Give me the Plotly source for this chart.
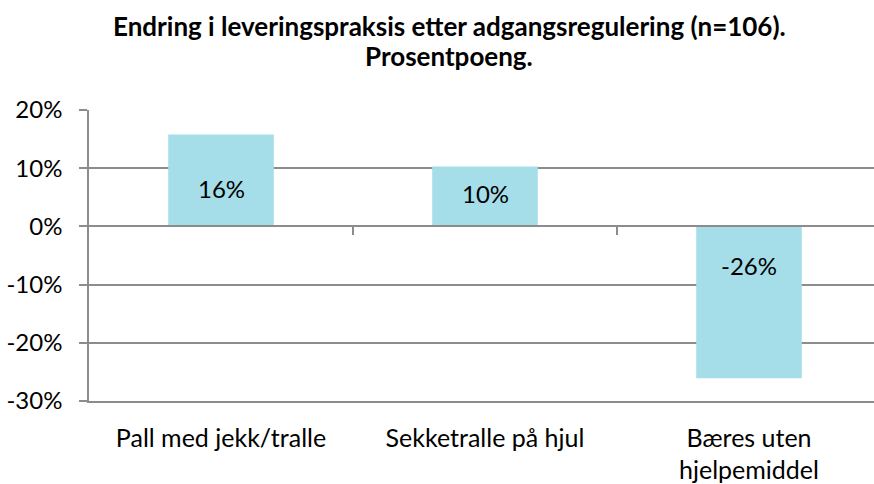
import plotly.graph_objects as go

categories = ["Pall med jekk/tralle", "Sekketralle på hjul", "Bæres uten<br>hjelpemiddel"]
values = [15.8, 10.3, -26.1]
label_texts = ["16%", "10%", "-26%"]
label_shift = [38, 33, -39]
y_ticks = [-30, -20, -10, 0, 10, 20]
y_tick_text = ["-30%", "-20%", "-10%", "0%", "10%", "20%"]
title_lines = ["Endring i leveringspraksis etter adgangsregulering (n=106).", "Prosentpoeng."]

FONT = "Lato"
GRID = "#8c8c8c"
BAR = "#A5DEE9"

fig = go.Figure()
fig.add_trace(go.Bar(
    x=categories, y=values, marker=dict(color=BAR, line=dict(width=0)),
    hoverinfo="skip", showlegend=False,
))
# invisible helper trace so the zero-line axis with category boundary ticks is drawn
fig.add_trace(go.Scatter(
    x=list(range(len(categories))), y=values, xaxis="x2", mode="markers",
    marker=dict(opacity=0), hoverinfo="skip", showlegend=False,
))

for c, t, s in zip(categories, label_texts, label_shift):
    fig.add_annotation(x=c, y=0, text=t, showarrow=False, yshift=s,
                       yanchor="middle", font=dict(family=FONT, size=24, color="#000"))

# title lines (plot area spans y=110..405 px, x=89..874 px)
for line, ypx in zip(title_lines, [25, 55]):
    fig.add_annotation(x=(449 - 89) / 785, y=(405 - ypx) / 295, xref="paper", yref="paper",
                       text=f"<b>{line}</b>", showarrow=False, xanchor="center", yanchor="middle",
                       font=dict(family=FONT, size=26, color="#000"))

n = len(categories)
xr = [-0.5, -0.5 + 785 / 264]

fig.update_layout(
    width=874, height=484,
    margin=dict(l=89, r=0, t=110, b=79),
    paper_bgcolor="white", plot_bgcolor="white",
    bargap=0.6,
    font=dict(family=FONT, size=24, color="#000"),
    xaxis=dict(
        type="category", range=xr, showgrid=False, zeroline=False,
        showline=True, linecolor=GRID, linewidth=1.5, ticks="",
        tickfont=dict(family=FONT, size=25, color="#000"),
        ticklabelstandoff=14,
    ),
    xaxis2=dict(
        overlaying="x", anchor="free", position=0.6, side="bottom",
        range=xr, showgrid=False, zeroline=False, showline=True,
        linecolor=GRID, linewidth=1.5, ticks="outside", ticklen=8,
        tickcolor=GRID, tickwidth=1.5,
        tickvals=[i + 0.5 for i in range(n - 1)], showticklabels=False,
    ),
    yaxis=dict(
        range=[-30, 20], tickvals=y_ticks, ticktext=y_tick_text,
        showgrid=True, gridcolor=GRID, gridwidth=1.5,
        zeroline=False, showline=True, linecolor=GRID, linewidth=1.5,
        ticks="outside", ticklen=8, tickcolor=GRID, tickwidth=1.5,
        tickfont=dict(family=FONT, size=24, color="#000"),
        ticklabelstandoff=12,
    ),
)

fig.write_html("out.html", config={"displayModeBar": False},
               post_script="document.body.style.margin='0';")
